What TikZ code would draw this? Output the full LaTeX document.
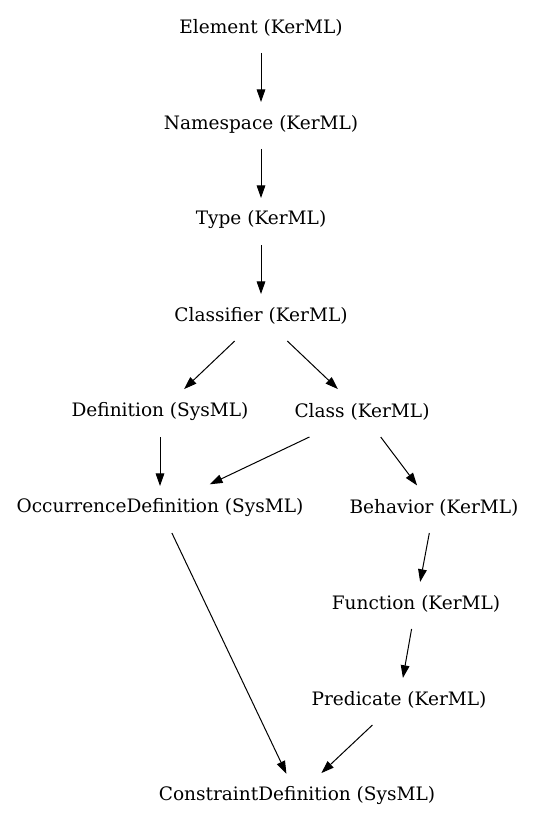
\documentclass[tikz,border=0pt]{standalone}
\usepackage{fontspec}
\setmainfont{DejaVu Serif}
\usetikzlibrary{positioning, arrows.meta}

\begin{document}
\begin{tikzpicture}[x=0.75pt, y=-0.75pt, ->, >={Triangle[length=9.5pt,width=6.5pt]}, line width=0.75pt, shorten >=-2.25pt,
  class/.style={minimum height=37.5pt, inner sep=0pt, outer sep=0pt, font=\fontsize{13.9}{16}\selectfont}]
  \useasboundingbox (0,0) rectangle (535,827);
  % KerML chain
  \node[class] (element)    at (261,28)  {Element (KerML)};
  \node[class] (namespace)  at (261,124) {Namespace (KerML)};
  \node[class] (type)       at (261,220) {Type (KerML)};
  \node[class] (classifier) at (261,316) {Classifier (KerML)};
  \node[class] (definition) at (160,412) {Definition (SysML)};
  \node[class] (class)      at (362,412) {Class (KerML)};
  \node[class] (occdef)     at (160,508) {OccurrenceDefinition (SysML)};
  \node[class] (behavior)   at (434,508) {Behavior (KerML)};
  \node[class] (function)   at (416,604) {Function (KerML)};
  \node[class] (predicate)  at (399,700) {Predicate (KerML)};
  \node[class] (constraint) at (297,796) {ConstraintDefinition (SysML)};
  \path
    (element) edge (namespace)
    (namespace) edge (type)
    (type) edge (classifier)
    (classifier) edge (definition)
    (classifier) edge (class)
    (definition) edge (occdef)
    (class) edge (occdef)
    (class) edge (behavior)
    (occdef) edge (constraint)
    (behavior) edge (function)
    (function) edge (predicate)
    (predicate) edge (constraint);
\end{tikzpicture}
\end{document}
